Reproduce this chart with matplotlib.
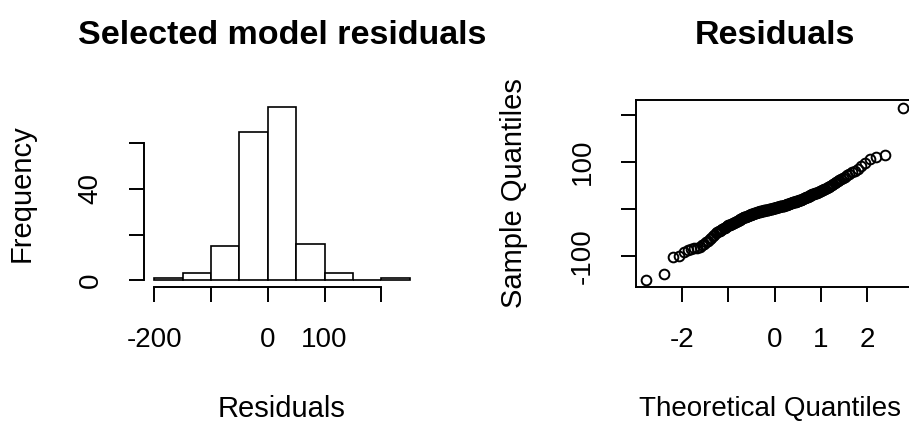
import matplotlib.pyplot as plt
import numpy as np
from statistics import NormalDist

plt.rcParams['font.family'] = ['Liberation Sans', 'DejaVu Sans']

res_bin1 = [-151]
res_bin2 = [-139, -103, -101]
res_bin3 = [-92, -88, -86, -84, -82, -80, -77, -74, -71, -68, -64, -61, -58, -55, -52]
res_bin4 = [-49, -47, -46, -44, -43, -41, -40, -38, -37, -35,
            -34, -33, -32, -31, -30, -29, -28, -27, -26, -25,
            -24, -23, -22, -21, -20, -19, -18, -17, -16, -16,
            -15, -14, -14, -13, -12, -12, -11, -11, -10, -10,
            -9, -9, -8, -8, -7, -7, -7, -6, -6, -5,
            -5, -5, -4, -4, -4, -3, -3, -3, -2, -2, -2, -2, -1, -1, -1]
res_bin5 = [0.5, 1, 1, 1.5, 2, 2, 2.5, 3, 3, 3.5, 4, 4, 4.5, 5, 5.5,
            6, 6, 6.5, 7, 7, 7.5, 8, 8.5, 9, 9.5,
            10, 10.5, 11, 11.5, 12, 12.5, 13, 13.5, 14, 14.5,
            15, 15.5, 16, 16.5, 17, 17.5, 18, 18.5, 19, 19.5,
            20, 21, 22, 22.5, 23, 24, 25, 25.5, 26, 27,
            28, 29, 30, 31, 32, 33, 33.5, 34, 35, 36,
            37, 38, 39, 40, 41, 42, 43, 44.5, 46, 47.5, 49]
res_bin6 = [51, 53, 55, 57, 59, 61, 63, 66, 69, 72, 75, 78, 82, 86, 91, 97]
res_bin7 = [106, 110, 116]
res_bin9 = [216]

residuals = np.array(res_bin1 + res_bin2 + res_bin3 + res_bin4 + res_bin5
                     + res_bin6 + res_bin7 + res_bin9)
bin_edges = [-200, -150, -100, -50, 0, 50, 100, 150, 200, 250]

hist_xticks = [-200, -100, 0, 100, 200]
hist_xlabels = ['-200', '', '0', '100', '']
hist_yticks = [0, 20, 40, 60]
hist_ylabels = ['0', '', '40', '']
qq_xticks = [-2, -1, 0, 1, 2]
qq_xlabels = ['-2', '', '0', '1', '2']
qq_yticks = [-100, 0, 100, 200]
qq_ylabels = ['-100', '', '100', '']

# normal quantiles for the QQ plot (same as R's ppoints/qnorm)
n = len(residuals)
theoretical = np.array([NormalDist().inv_cdf((i - 0.5) / n) for i in range(1, n + 1)])
sample = np.sort(residuals)

fig = plt.figure(figsize=(9.09, 4.23), dpi=100)
ax1 = fig.add_axes([0.1584, 0.3215, 0.3036, 0.442])
ax2 = fig.add_axes([0.6997, 0.3215, 0.3047, 0.442])

# Histogram
ax1.hist(residuals, bins=bin_edges, facecolor='white', edgecolor='black', linewidth=1.2)
ax1.set_xlim(-218, 268)
ax1.set_ylim(-3.04, 79.04)
ax1.spines['top'].set_visible(False)
ax1.spines['right'].set_visible(False)
ax1.spines['left'].set_bounds(0, 60)
ax1.spines['bottom'].set_bounds(-200, 200)
ax1.set_xticks(hist_xticks)
ax1.set_xticklabels(hist_xlabels)
ax1.set_yticks(hist_yticks)
ax1.set_yticklabels(hist_ylabels, rotation=90, va='center')
ax1.set_title('Selected model residuals', fontsize=24.5, fontweight='bold', pad=40)
ax1.set_xlabel('Residuals', fontsize=21, labelpad=30)
ax1.set_ylabel('Frequency', fontsize=21, labelpad=30)

# Normal QQ plot
ax2.plot(theoretical, sample, 'o', mfc='none', mec='black', ms=7, mew=1.4)
ax2.set_xlim(-2.99, 2.99)
ax2.set_ylim(-166, 232)
ax2.set_xticks(qq_xticks)
ax2.set_xticklabels(qq_xlabels)
ax2.set_yticks(qq_yticks)
ax2.set_yticklabels(qq_ylabels, rotation=90, va='center')
ax2.set_title('Residuals', fontsize=24.5, fontweight='bold', pad=40)
ax2.set_xlabel('Theoretical Quantiles', fontsize=20)
ax2.xaxis.set_label_coords(0.485, -0.585)
ax2.set_ylabel('Sample Quantiles', fontsize=21, labelpad=30)

for ax in (ax1, ax2):
    for sp in ax.spines.values():
        sp.set_linewidth(1.4)
    ax.tick_params(direction='out', length=11, width=1.4, labelsize=20, pad=18)

plt.savefig('out.png', dpi=100)
